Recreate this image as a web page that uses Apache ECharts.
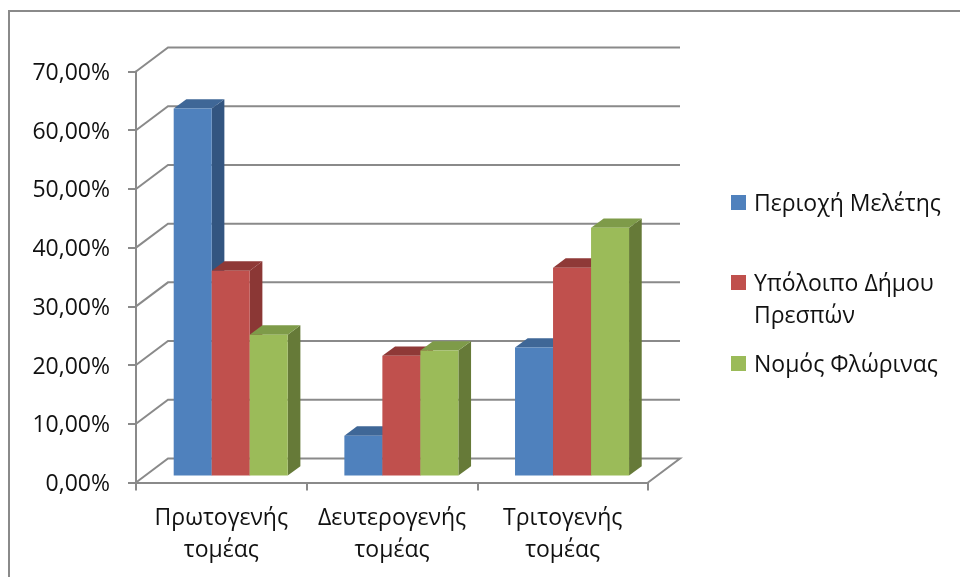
<!DOCTYPE html>
<html><head><meta charset="utf-8">
<style>html,body{margin:0;padding:0;background:#fff}#c{width:960px;height:577px}</style>
<script src="https://cdn.jsdelivr.net/npm/echarts@6/dist/echarts.min.js"></script>
</head><body><div id="c"></div>
<script>
const categories = ['Πρωτογενής\nτομέας','Δευτερογενής\nτομέας','Τριτογενής\nτομέας'];
const seriesNames = ['Περιοχή Μελέτης','Υπόλοιπο Δήμου\nΠρεσπών','Νομός Φλώρινας'];
const studyArea = [62.5, 6.8, 21.8];
const restOfMunicipality = [34.9, 20.4, 35.4];
const florinaPrefecture = [24.0, 21.3, 42.2];
const yTicks = [0,10,20,30,40,50,60,70];
const FONT = 'Open Sans';
const GREY = '#8a8a8a';
const palette = [
  {front:'#4F81BD', top:'#3F6797', side:'#335580'},
  {front:'#C0504D', top:'#8F3937', side:'#8B3735'},
  {front:'#9BBB59', top:'#7E9B49', side:'#667A38'}
];
function barSeries(name, data, si){
  const p = palette[si];
  return {
    type:'custom', name, z:3+si, itemStyle:{color:p.front},
    data:data.map((v,i)=>[i,v]),
    encode:{x:0,y:1},
    renderItem(params, api){
      const c = api.value(0), v = api.value(1);
      const band = api.size([1,0])[0];
      const w = band*0.2227, dx = w/3, dy = dx*0.74;
      const sx = dx*0.74, sy = dy*0.74;
      const top = api.coord([c,v]), base = api.coord([c,0]);
      const x0 = top[0] + (si-1.5)*w + sx, x1 = x0+w;
      const y0 = top[1]-sy, y1 = base[1]-sy;
      return {type:'group', children:[
        {type:'polygon', shape:{points:[[x1,y0],[x1+dx,y0-dy],[x1+dx,y1-dy],[x1,y1]]}, style:{fill:p.side}},
        {type:'polygon', shape:{points:[[x0,y0],[x0+dx,y0-dy],[x1+dx,y0-dy],[x1,y0]]}, style:{fill:p.top}},
        {type:'rect', shape:{x:x0,y:y0,width:w,height:y1-y0}, style:{fill:p.front}}
      ]};
    }
  };
}
const wallSeries = {
  type:'custom', name:'walls', silent:true, z:1,
  data:yTicks.map(t=>[0,t]), encode:{x:0,y:1},
  renderItem(params, api){
    const s = params.coordSys, y = api.coord([0,api.value(1)])[1];
    const dx = s.width/16, dy = dx*0.75;
    const ls = {stroke:GREY, lineWidth:2, fill:'none'};
    const pts = [[s.x,y],[s.x+dx,y-dy],[s.x+s.width+dx,y-dy]];
    if(api.value(1)===0) pts.push([s.x+s.width,y]);
    return {type:'polyline', shape:{points:pts}, style:ls};
  }
};
const legendText = {fontFamily:FONT, fontSize:23, color:'#111', lineHeight:32, padding:[0,0,0,3]};
const legendBase = {orient:'vertical', selectedMode:false, padding:0, itemGap:0, itemWidth:15, itemHeight:32, symbolKeepAspect:false, textStyle:legendText};
const icon1 = 'path://M0 0H15V0H0Z M0 7H15V22H0Z M0 32H15V32H0Z';
const icon2 = 'path://M0 0H15V0H0Z M0 7H15V22H0Z M0 64H15V64H0Z';
const chart = echarts.init(document.getElementById('c'), null, {renderer:'canvas'});
chart.setOption({
  animation:false, backgroundColor:'#fff',
  grid:{left:136, width:512, top:71.5, height:411, containLabel:false},
  xAxis:{type:'category', data:categories,
    axisLine:{lineStyle:{color:GREY,width:2}},
    axisTick:{show:true,length:8,lineStyle:{color:GREY,width:2}},
    axisLabel:{fontFamily:FONT,fontSize:23,color:'#111',lineHeight:32,margin:20,interval:0}},
  yAxis:{type:'value', min:0, max:70, interval:10,
    splitLine:{show:false},
    axisLine:{show:true,lineStyle:{color:GREY,width:2}},
    axisTick:{show:true,length:8,lineStyle:{color:GREY,width:2}},
    axisLabel:{fontFamily:FONT,fontSize:23,color:'#111',margin:26,
      rich:{a:{fontFamily:FONT,fontSize:23,color:'#111',padding:[4,0,0,0]}},
      formatter:v=>'{a|'+v.toFixed(2).replace('.',',')+'%}'}},
  legend:[
    Object.assign({},legendBase,{left:731,top:188,data:[{name:seriesNames[0],icon:icon1}]}),
    Object.assign({},legendBase,{left:731,top:268,itemHeight:64,data:[{name:seriesNames[1],icon:icon2}]}),
    Object.assign({},legendBase,{left:731,top:349,data:[{name:seriesNames[2],icon:icon1}]})
  ],
  graphic:[{type:'polyline', silent:true, shape:{points:[[9,577],[9,11],[960,11]]}, style:{stroke:GREY,lineWidth:2,fill:'none'}}],
  series:[wallSeries,
    barSeries(seriesNames[0],studyArea,0),
    barSeries(seriesNames[1],restOfMunicipality,1),
    barSeries(seriesNames[2],florinaPrefecture,2)]
});
</script></body></html>
